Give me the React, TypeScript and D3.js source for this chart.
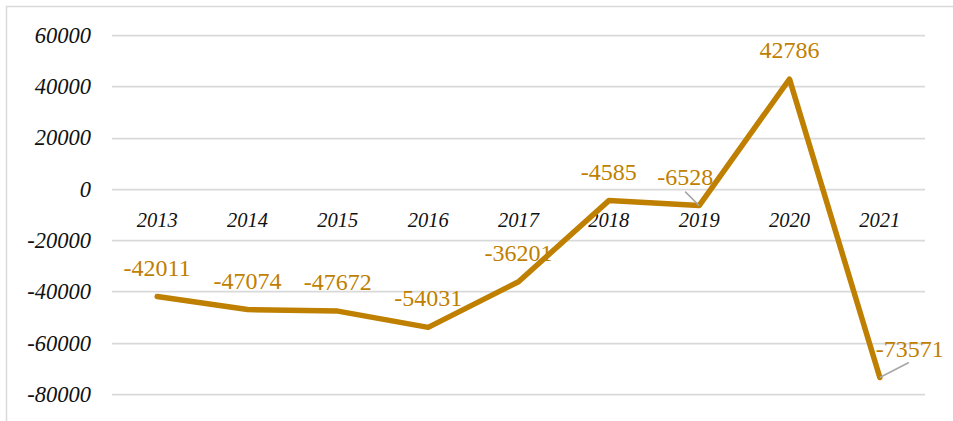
import { useEffect, useRef } from 'react'
import * as d3 from 'd3'

const years = ['2013', '2014', '2015', '2016', '2017', '2018', '2019', '2020', '2021']
const values = [-42011, -47074, -47672, -54031, -36201, -4585, -6528, 42786, -73571]
const yTicks = [60000, 40000, 20000, 0, -20000, -40000, -60000, -80000]

// labels that were dragged away from the point in the original (px)
const labelNudge: Record<string, [number, number]> = {
  '2019': [-14, 0],
  '2021': [30, 0],
}

const GOLD = '#BF7F00'
const FONT = '"Liberation Serif", "Times New Roman", serif'

function App() {
  const svgRef = useRef<SVGSVGElement>(null)

  useEffect(() => {
    const width = 953
    const height = 421
    const margin = { top: 35, right: 28, bottom: 27, left: 112 }

    const svg = d3.select(svgRef.current)
    svg.selectAll('*').remove()

    // chart frame (right and bottom edges fall outside the picture)
    svg.append('rect')
      .attr('x', 6.5).attr('y', 6.5)
      .attr('width', width + 20).attr('height', height + 20)
      .attr('fill', 'white')
      .attr('stroke', '#d9d9d9')
      .attr('stroke-width', 1.5)

    const x = d3.scaleBand()
      .domain(years)
      .range([margin.left, width - margin.right])

    const y = d3.scaleLinear()
      .domain([-80000, 60000])
      .range([height - margin.bottom, margin.top])

    // gridlines
    svg.append('g')
      .selectAll('line')
      .data(yTicks)
      .join('line')
      .attr('x1', margin.left)
      .attr('x2', width - margin.right)
      .attr('y1', d => Math.round(y(d)) + 0.5)
      .attr('y2', d => Math.round(y(d)) + 0.5)
      .attr('stroke', '#d9d9d9')
      .attr('stroke-width', 1.75)

    // y axis labels
    svg.append('g')
      .selectAll('text')
      .data(yTicks)
      .join('text')
      .attr('x', 91)
      .attr('y', d => y(d))
      .attr('dy', '0.35em')
      .attr('text-anchor', 'end')
      .attr('font-family', FONT)
      .attr('font-style', 'italic')
      .attr('font-size', 22.5)
      .attr('fill', '#111')
      .text(d => String(d))

    // category labels sit just under the zero line
    svg.append('g')
      .selectAll('text')
      .data(years)
      .join('text')
      .attr('x', d => x(d)! + x.bandwidth() / 2)
      .attr('y', y(0) + 38)
      .attr('text-anchor', 'middle')
      .attr('font-family', FONT)
      .attr('font-style', 'italic')
      .attr('font-size', 20.5)
      .attr('fill', '#111')
      .text(d => d)

    const pts = years.map((yr, i) => ({ yr, v: values[i], px: x(yr)! + x.bandwidth() / 2, py: y(values[i]) }))

    const line = d3.line<typeof pts[0]>().x(d => d.px).y(d => d.py)

    svg.append('path')
      .datum(pts)
      .attr('d', line)
      .attr('fill', 'none')
      .attr('stroke', GOLD)
      .attr('stroke-width', 5.5)
      .attr('stroke-linejoin', 'round')
      .attr('stroke-linecap', 'round')

    // leader lines for moved labels
    svg.append('g')
      .selectAll('line')
      .data(pts.filter(d => labelNudge[d.yr]))
      .join('line')
      .attr('x1', d => d.px)
      .attr('y1', d => d.py)
      .attr('x2', d => labelNudge[d.yr][0] > 0 ? d.px + labelNudge[d.yr][0] - 1 : d.px + labelNudge[d.yr][0])
      .attr('y2', d => labelNudge[d.yr][0] > 0 ? d.py - 15 : d.py - 14)
      .attr('stroke', '#a6a6a6')
      .attr('stroke-width', 1.5)

    // data labels
    svg.append('g')
      .selectAll('text')
      .data(pts)
      .join('text')
      .attr('x', d => d.px + (labelNudge[d.yr]?.[0] ?? 0))
      .attr('y', d => d.py - 21 + (labelNudge[d.yr]?.[1] ?? 0))
      .attr('text-anchor', 'middle')
      .attr('font-family', FONT)
      .attr('font-size', 24)
      .attr('fill', GOLD)
      .text(d => String(d.v))
  }, [])

  return (
    <div style={{ position: 'absolute', left: 0, top: 0 }}>
      <svg ref={svgRef} width={953} height={421} style={{ display: 'block' }}></svg>
    </div>
  )
}

export default App
